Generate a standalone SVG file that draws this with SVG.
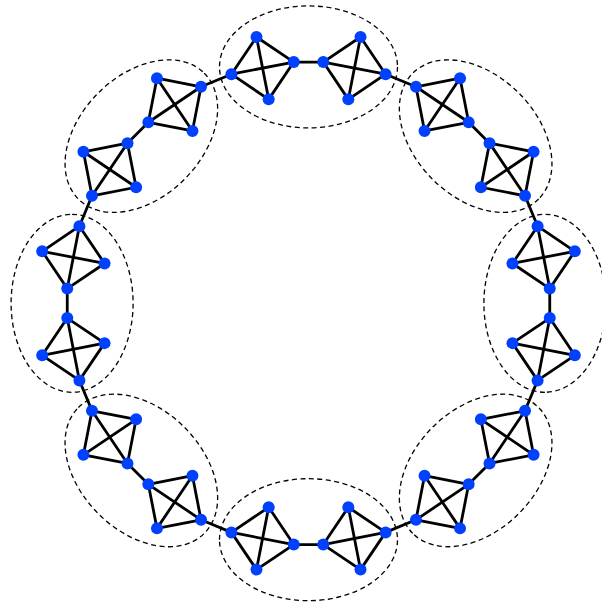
<svg xmlns="http://www.w3.org/2000/svg" xmlns:xlink="http://www.w3.org/1999/xlink" width="602" height="607" viewBox="0 0 602 607">
<style>
.e{stroke:#000;stroke-width:2.8;stroke-linecap:round;fill:none}
.c{fill:none;stroke:#000;stroke-width:1.3;stroke-dasharray:5,3.5}
.n{fill:#0040ff}
</style>
<defs>
<g id="edges">
<line class="e" x1="231.4" y1="74.2" x2="256.5" y2="37.0"/>
<line class="e" x1="231.4" y1="74.2" x2="268.67" y2="99.35"/>
<line class="e" x1="231.4" y1="74.2" x2="293.74" y2="62.05"/>
<line class="e" x1="256.5" y1="37.0" x2="268.67" y2="99.35"/>
<line class="e" x1="256.5" y1="37.0" x2="293.74" y2="62.05"/>
<line class="e" x1="268.67" y1="99.35" x2="293.74" y2="62.05"/>
<line class="e" x1="293.74" y1="62.05" x2="323.26" y2="62.05"/>
<line class="e" x1="323.26" y1="62.05" x2="360.5" y2="37.0"/>
<line class="e" x1="323.26" y1="62.05" x2="348.33" y2="99.35"/>
<line class="e" x1="323.26" y1="62.05" x2="385.6" y2="74.2"/>
<line class="e" x1="360.5" y1="37.0" x2="348.33" y2="99.35"/>
<line class="e" x1="360.5" y1="37.0" x2="385.6" y2="74.2"/>
<line class="e" x1="348.33" y1="99.35" x2="385.6" y2="74.2"/>
<line class="e" x1="385.6" y1="74.2" x2="415.98" y2="86.78"/>
</g>
</defs>
<g id="clusters">
<ellipse class="c" cx="308.5" cy="66.9" rx="89" ry="61" transform="rotate(0 308.5 303.3)"/>
<ellipse class="c" cx="308.5" cy="66.9" rx="89" ry="61" transform="rotate(45 308.5 303.3)"/>
<ellipse class="c" cx="308.5" cy="66.9" rx="89" ry="61" transform="rotate(90 308.5 303.3)"/>
<ellipse class="c" cx="308.5" cy="66.9" rx="89" ry="61" transform="rotate(135 308.5 303.3)"/>
<ellipse class="c" cx="308.5" cy="66.9" rx="89" ry="61" transform="rotate(180 308.5 303.3)"/>
<ellipse class="c" cx="308.5" cy="66.9" rx="89" ry="61" transform="rotate(225 308.5 303.3)"/>
<ellipse class="c" cx="308.5" cy="66.9" rx="89" ry="61" transform="rotate(270 308.5 303.3)"/>
<ellipse class="c" cx="308.5" cy="66.9" rx="89" ry="61" transform="rotate(315 308.5 303.3)"/>
</g>
<g id="connectors">
<use xlink:href="#edges" href="#edges" transform="rotate(0 308.5 303.3)"/>
<use xlink:href="#edges" href="#edges" transform="rotate(45 308.5 303.3)"/>
<use xlink:href="#edges" href="#edges" transform="rotate(90 308.5 303.3)"/>
<use xlink:href="#edges" href="#edges" transform="rotate(135 308.5 303.3)"/>
<use xlink:href="#edges" href="#edges" transform="rotate(180 308.5 303.3)"/>
<use xlink:href="#edges" href="#edges" transform="rotate(225 308.5 303.3)"/>
<use xlink:href="#edges" href="#edges" transform="rotate(270 308.5 303.3)"/>
<use xlink:href="#edges" href="#edges" transform="rotate(315 308.5 303.3)"/>
</g>
<g id="nodes">
<g transform="rotate(0 308.5 303.3)">
<g id="n0a1"><circle class="n" cx="231.4" cy="74.2" r="6"/></g>
<g id="n0a2"><circle class="n" cx="256.5" cy="37.0" r="6"/></g>
<g id="n0a3"><circle class="n" cx="268.67" cy="99.35" r="6"/></g>
<g id="n0a4"><circle class="n" cx="293.74" cy="62.05" r="6"/></g>
<g id="n0b1"><circle class="n" cx="323.26" cy="62.05" r="6"/></g>
<g id="n0b2"><circle class="n" cx="360.5" cy="37.0" r="6"/></g>
<g id="n0b3"><circle class="n" cx="348.33" cy="99.35" r="6"/></g>
<g id="n0b4"><circle class="n" cx="385.6" cy="74.2" r="6"/></g>
</g>
<g transform="rotate(45 308.5 303.3)">
<g id="n1a1"><circle class="n" cx="231.4" cy="74.2" r="6"/></g>
<g id="n1a2"><circle class="n" cx="256.5" cy="37.0" r="6"/></g>
<g id="n1a3"><circle class="n" cx="268.67" cy="99.35" r="6"/></g>
<g id="n1a4"><circle class="n" cx="293.74" cy="62.05" r="6"/></g>
<g id="n1b1"><circle class="n" cx="323.26" cy="62.05" r="6"/></g>
<g id="n1b2"><circle class="n" cx="360.5" cy="37.0" r="6"/></g>
<g id="n1b3"><circle class="n" cx="348.33" cy="99.35" r="6"/></g>
<g id="n1b4"><circle class="n" cx="385.6" cy="74.2" r="6"/></g>
</g>
<g transform="rotate(90 308.5 303.3)">
<g id="n2a1"><circle class="n" cx="231.4" cy="74.2" r="6"/></g>
<g id="n2a2"><circle class="n" cx="256.5" cy="37.0" r="6"/></g>
<g id="n2a3"><circle class="n" cx="268.67" cy="99.35" r="6"/></g>
<g id="n2a4"><circle class="n" cx="293.74" cy="62.05" r="6"/></g>
<g id="n2b1"><circle class="n" cx="323.26" cy="62.05" r="6"/></g>
<g id="n2b2"><circle class="n" cx="360.5" cy="37.0" r="6"/></g>
<g id="n2b3"><circle class="n" cx="348.33" cy="99.35" r="6"/></g>
<g id="n2b4"><circle class="n" cx="385.6" cy="74.2" r="6"/></g>
</g>
<g transform="rotate(135 308.5 303.3)">
<g id="n3a1"><circle class="n" cx="231.4" cy="74.2" r="6"/></g>
<g id="n3a2"><circle class="n" cx="256.5" cy="37.0" r="6"/></g>
<g id="n3a3"><circle class="n" cx="268.67" cy="99.35" r="6"/></g>
<g id="n3a4"><circle class="n" cx="293.74" cy="62.05" r="6"/></g>
<g id="n3b1"><circle class="n" cx="323.26" cy="62.05" r="6"/></g>
<g id="n3b2"><circle class="n" cx="360.5" cy="37.0" r="6"/></g>
<g id="n3b3"><circle class="n" cx="348.33" cy="99.35" r="6"/></g>
<g id="n3b4"><circle class="n" cx="385.6" cy="74.2" r="6"/></g>
</g>
<g transform="rotate(180 308.5 303.3)">
<g id="n4a1"><circle class="n" cx="231.4" cy="74.2" r="6"/></g>
<g id="n4a2"><circle class="n" cx="256.5" cy="37.0" r="6"/></g>
<g id="n4a3"><circle class="n" cx="268.67" cy="99.35" r="6"/></g>
<g id="n4a4"><circle class="n" cx="293.74" cy="62.05" r="6"/></g>
<g id="n4b1"><circle class="n" cx="323.26" cy="62.05" r="6"/></g>
<g id="n4b2"><circle class="n" cx="360.5" cy="37.0" r="6"/></g>
<g id="n4b3"><circle class="n" cx="348.33" cy="99.35" r="6"/></g>
<g id="n4b4"><circle class="n" cx="385.6" cy="74.2" r="6"/></g>
</g>
<g transform="rotate(225 308.5 303.3)">
<g id="n5a1"><circle class="n" cx="231.4" cy="74.2" r="6"/></g>
<g id="n5a2"><circle class="n" cx="256.5" cy="37.0" r="6"/></g>
<g id="n5a3"><circle class="n" cx="268.67" cy="99.35" r="6"/></g>
<g id="n5a4"><circle class="n" cx="293.74" cy="62.05" r="6"/></g>
<g id="n5b1"><circle class="n" cx="323.26" cy="62.05" r="6"/></g>
<g id="n5b2"><circle class="n" cx="360.5" cy="37.0" r="6"/></g>
<g id="n5b3"><circle class="n" cx="348.33" cy="99.35" r="6"/></g>
<g id="n5b4"><circle class="n" cx="385.6" cy="74.2" r="6"/></g>
</g>
<g transform="rotate(270 308.5 303.3)">
<g id="n6a1"><circle class="n" cx="231.4" cy="74.2" r="6"/></g>
<g id="n6a2"><circle class="n" cx="256.5" cy="37.0" r="6"/></g>
<g id="n6a3"><circle class="n" cx="268.67" cy="99.35" r="6"/></g>
<g id="n6a4"><circle class="n" cx="293.74" cy="62.05" r="6"/></g>
<g id="n6b1"><circle class="n" cx="323.26" cy="62.05" r="6"/></g>
<g id="n6b2"><circle class="n" cx="360.5" cy="37.0" r="6"/></g>
<g id="n6b3"><circle class="n" cx="348.33" cy="99.35" r="6"/></g>
<g id="n6b4"><circle class="n" cx="385.6" cy="74.2" r="6"/></g>
</g>
<g transform="rotate(315 308.5 303.3)">
<g id="n7a1"><circle class="n" cx="231.4" cy="74.2" r="6"/></g>
<g id="n7a2"><circle class="n" cx="256.5" cy="37.0" r="6"/></g>
<g id="n7a3"><circle class="n" cx="268.67" cy="99.35" r="6"/></g>
<g id="n7a4"><circle class="n" cx="293.74" cy="62.05" r="6"/></g>
<g id="n7b1"><circle class="n" cx="323.26" cy="62.05" r="6"/></g>
<g id="n7b2"><circle class="n" cx="360.5" cy="37.0" r="6"/></g>
<g id="n7b3"><circle class="n" cx="348.33" cy="99.35" r="6"/></g>
<g id="n7b4"><circle class="n" cx="385.6" cy="74.2" r="6"/></g>
</g>
</g>
</svg>
